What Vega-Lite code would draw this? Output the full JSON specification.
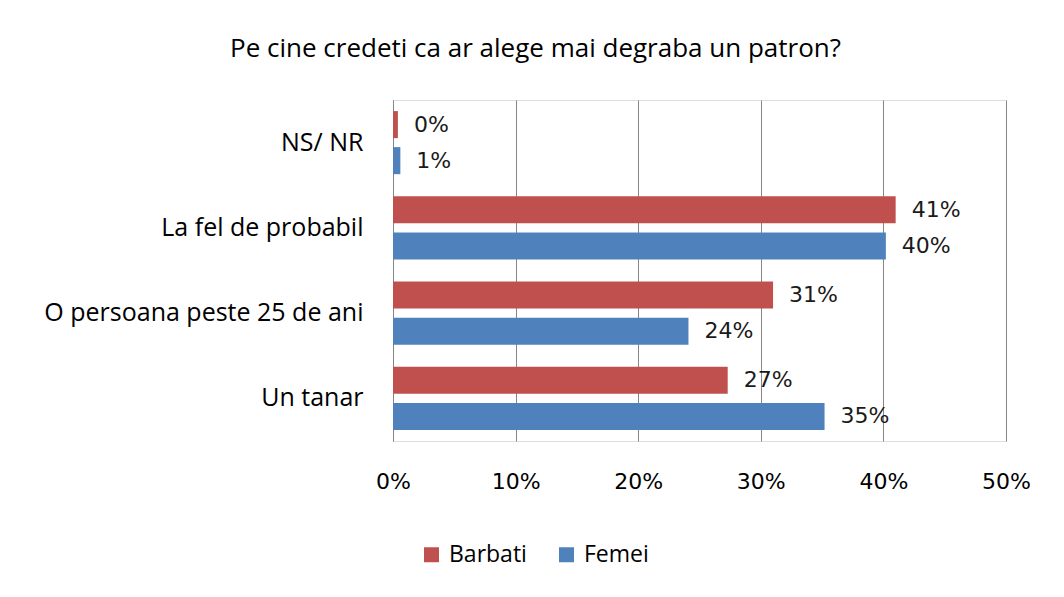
{
  "$schema": "https://vega.github.io/schema/vega-lite/v6.json",
  "autosize": {"type": "none"},
  "width": 613,
  "height": 341,
  "padding": {"left": 393, "top": 100, "right": 58, "bottom": 156},
  "background": "white",
  "title": {
    "text": "Pe cine credeti ca ar alege mai degraba un patron?",
    "font": "Open Sans",
    "fontSize": 26,
    "fontWeight": "normal",
    "color": "#000000",
    "anchor": "middle",
    "dx": -164,
    "offset": 17,
    "baseline": "alphabetic"
  },
  "data": {
    "values": [
      {"raspuns": "NS/ NR", "sex": "Barbati", "procent": 0.004},
      {"raspuns": "NS/ NR", "sex": "Femei", "procent": 0.006},
      {"raspuns": "La fel de probabil", "sex": "Barbati", "procent": 0.41},
      {"raspuns": "La fel de probabil", "sex": "Femei", "procent": 0.402},
      {"raspuns": "O persoana peste 25 de ani", "sex": "Barbati", "procent": 0.31},
      {"raspuns": "O persoana peste 25 de ani", "sex": "Femei", "procent": 0.241},
      {"raspuns": "Un tanar", "sex": "Barbati", "procent": 0.273},
      {"raspuns": "Un tanar", "sex": "Femei", "procent": 0.352}
    ]
  },
  "encoding": {
    "y": {
      "field": "raspuns",
      "type": "nominal",
      "sort": ["NS/ NR", "La fel de probabil", "O persoana peste 25 de ani", "Un tanar"],
      "scale": {"paddingInner": 0.26, "paddingOuter": 0.13},
      "axis": {
        "title": null,
        "ticks": false,
        "domain": true,
        "domainColor": "#868686",
        "domainWidth": 1,
        "labelFont": "Open Sans",
        "labelFontSize": 25,
        "labelColor": "#000000",
        "labelPadding": 30,
        "labelLimit": 400
      }
    },
    "yOffset": {
      "field": "sex",
      "type": "nominal",
      "sort": ["Barbati", "Femei"],
      "scale": {"paddingInner": 0.25, "paddingOuter": 0}
    },
    "x": {
      "field": "procent",
      "type": "quantitative",
      "scale": {"domain": [0, 0.5], "nice": false},
      "axis": {
        "title": null,
        "values": [0, 0.1, 0.2, 0.3, 0.4, 0.5],
        "format": ".0%",
        "domain": false,
        "ticks": false,
        "grid": true,
        "gridColor": "#868686",
        "gridWidth": 1,
        "labelFlush": false,
        "labelFont": "DejaVu Sans",
        "labelFontSize": 22,
        "labelColor": "#000000",
        "labelPadding": 30,
        "labelBaseline": "top"
      }
    }
  },
  "layer": [
    {
      "mark": {"type": "bar"},
      "encoding": {
        "color": {
          "field": "sex",
          "type": "nominal",
          "sort": ["Barbati", "Femei"],
          "scale": {"domain": ["Barbati", "Femei"], "range": ["#C0504D", "#4F81BD"]},
          "legend": {
            "title": null,
            "orient": "none",
            "direction": "horizontal",
            "legendX": 27,
            "legendY": 443,
            "symbolType": "square",
            "symbolSize": 225,
            "symbolStrokeWidth": 0,
            "labelFont": "Open Sans",
            "labelFontSize": 23,
            "labelColor": "#000000",
            "labelOffset": 6,
            "columnPadding": 28
          }
        }
      }
    },
    {
      "mark": {
        "type": "text",
        "align": "left",
        "baseline": "middle",
        "dx": 16,
        "font": "DejaVu Sans",
        "fontSize": 22,
        "color": "#1a1a1a"
      },
      "encoding": {
        "text": {"field": "procent", "type": "quantitative", "format": ".0%"}
      }
    }
  ]
}
